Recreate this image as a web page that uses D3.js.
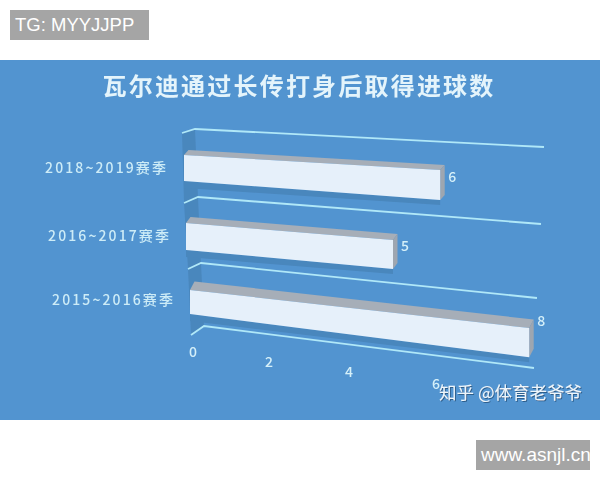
<!DOCTYPE html>
<html>
<head>
    <meta charset="utf-8">
    <script src="https://d3js.org/d3.v7.js"></script>
    <style>
        body { margin: 0; background: white; }
        svg { display: block; }
        text { font-family: "Noto Sans CJK SC", "Noto Sans", sans-serif; }
        .tag { font-family: "Liberation Sans", sans-serif; fill: white; }
        .cat { fill: #cdecf7; font-size: 14px; font-weight: 500; letter-spacing: 2.1px; }
        .num { fill: #d5f0f9; font-size: 14px; font-weight: 500; }
    </style>
</head>
<body>
    <script>
        const title = '瓦尔迪通过长传打身后取得进球数'
        const categories = ['2018~2019赛季', '2016~2017赛季', '2015~2016赛季']
        const goals = [6, 5, 8]
        const xTicks = [0, 2, 4, 6]
        const w = 600
        const h = 480

        const rows = d3.range(categories.length)

        // the picture is a tilted 3d chart, so every row has its own scale
        const left = d3.scaleOrdinal(rows, [184, 186, 190])
        const unit = d3.scaleOrdinal(rows, [42.7, 41.4, 42.4])
        const topY = d3.scaleOrdinal(rows, [155, 223, 290])
        const topSlope = d3.scaleOrdinal(rows, [2.5, 3.4, 4.75])
        const bottomY = d3.scaleOrdinal(rows, [181, 250, 314])
        const bottomSlope = d3.scaleOrdinal(rows, [3.17, 3.8, 5.4])
        const labelY = d3.scaleOrdinal(rows, [169, 237, 301])
        const labelRight = d3.scaleOrdinal(rows, [168, 171, 175])
        const valueShift = d3.scaleOrdinal(rows, [-7, -7, -20])

        // depth offset of the bars, the lower bars look thicker
        const depthX = 4.5
        const depthY = d3.scaleOrdinal(rows, [-5, -6, -8.5])

        const fx = (r, v) => left(r) + v * unit(r)
        const fTop = (r, v) => topY(r) + v * topSlope(r)
        const fBottom = (r, v) => bottomY(r) + v * bottomSlope(r)

        // grid lines sit on the row boundaries
        const gridStartX = d3.scaleLinear().domain([0, 1, 2, 3]).range([182, 184, 188, 191])
        const gridStartY = d3.scaleLinear().domain([0, 1, 2, 3]).range([133, 203, 269, 335])
        const gridBackX = d3.scaleLinear().domain([0, 1, 2, 3]).range([195, 198, 201, 204])
        const gridBackY = d3.scaleLinear().domain([0, 1, 2, 3]).range([129, 197, 263, 326])
        const gridEndX = d3.scaleLinear().domain([0, 1, 2, 3]).range([544, 541, 537, 534])
        const gridEndY = d3.scaleLinear().domain([0, 1, 2, 3]).range([147, 224, 298, 368])

        const tickX = d3.scaleLinear().domain(xTicks).range([193, 269, 349, 436])
        const tickY = d3.scaleLinear().domain(xTicks).range([353, 363, 373, 385])

        const svg = d3.select('body')
            .append('svg')
            .attr('width', w)
            .attr('height', h)

        const defs = svg.append('defs')
        defs.append('filter').attr('id', 'soft')
            .append('feGaussianBlur').attr('stdDeviation', 0.45)
        const shadow = defs.append('filter').attr('id', 'shadow')
        shadow.append('feDropShadow')
            .attr('dx', 1).attr('dy', 1).attr('stdDeviation', 0.6)
            .attr('flood-color', '#2f5f8c')

        svg.append('rect')
            .attr('y', 60)
            .attr('width', w)
            .attr('height', 360)
            .attr('fill', '#5294d0')

        const chart = svg.append('g').attr('filter', 'url(#soft)')

        // dark left wall
        const boundaries = d3.range(categories.length + 1)
        const wall = boundaries.map(i => [gridStartX(i), gridStartY(i)])
            .concat(boundaries.map(i => [gridBackX(i), gridBackY(i)]).reverse())
        chart.append('polygon')
            .attr('points', wall.join(' '))
            .attr('fill', '#4a87bd')

        chart.selectAll('.grid')
            .data(boundaries)
            .enter()
            .append('polyline')
            .attr('class', 'grid')
            .attr('points', i => [
                [gridStartX(i), gridStartY(i)],
                [gridBackX(i), gridBackY(i)],
                [gridEndX(i), gridEndY(i)]
            ].join(' '))
            .attr('fill', 'none')
            .attr('stroke', '#b0e8f8')
            .attr('stroke-width', 1.8)

        const bars = chart.selectAll('.bar')
            .data(goals)
            .enter()
            .append('g')
            .attr('class', 'bar')

        // shaded strip under each bar
        bars.append('polygon')
            .attr('points', (d, r) => [
                [fx(r, 0), fBottom(r, 0)],
                [fx(r, d), fBottom(r, d)],
                [fx(r, d), fBottom(r, d) + 5],
                [fx(r, 0), fBottom(r, 0) + 7]
            ].join(' '))
            .attr('fill', '#4a87bd')

        // top face
        bars.append('polygon')
            .attr('points', (d, r) => [
                [fx(r, 0), fTop(r, 0)],
                [fx(r, 0) + depthX, fTop(r, 0) + depthY(r)],
                [fx(r, d) + depthX, fTop(r, d) + depthY(r)],
                [fx(r, d), fTop(r, d)]
            ].join(' '))
            .attr('fill', '#a6aeb8')

        // end face
        bars.append('polygon')
            .attr('points', (d, r) => [
                [fx(r, d), fTop(r, d)],
                [fx(r, d) + depthX, fTop(r, d) + depthY(r)],
                [fx(r, d) + depthX, fBottom(r, d) + depthY(r)],
                [fx(r, d), fBottom(r, d)]
            ].join(' '))
            .attr('fill', '#9ea6b0')

        // front face
        bars.append('polygon')
            .attr('points', (d, r) => [
                [fx(r, 0), fTop(r, 0)],
                [fx(r, d), fTop(r, d)],
                [fx(r, d), fBottom(r, d)],
                [fx(r, 0), fBottom(r, 0)]
            ].join(' '))
            .attr('fill', '#e6f0fa')

        // value labels
        chart.selectAll('.value')
            .data(goals)
            .enter()
            .append('text')
            .attr('class', 'num value')
            .attr('x', (d, r) => fx(r, d) + 12)
            .attr('y', (d, r) => (fTop(r, d) + fBottom(r, d)) / 2 + valueShift(r))
            .attr('text-anchor', 'middle')
            .attr('dominant-baseline', 'middle')
            .text(d => d)

        chart.selectAll('.cat')
            .data(categories)
            .enter()
            .append('text')
            .attr('class', 'cat')
            .attr('x', (d, r) => labelRight(r))
            .attr('y', (d, r) => labelY(r))
            .attr('text-anchor', 'end')
            .attr('dominant-baseline', 'middle')
            .text(d => d)

        chart.selectAll('.tick')
            .data(xTicks)
            .enter()
            .append('text')
            .attr('class', 'num tick')
            .attr('x', d => tickX(d))
            .attr('y', d => tickY(d))
            .attr('text-anchor', 'middle')
            .attr('dominant-baseline', 'middle')
            .text(d => d)

        chart.append('text')
            .attr('x', 299)
            .attr('y', 88)
            .attr('text-anchor', 'middle')
            .attr('dominant-baseline', 'middle')
            .attr('fill', '#e4f4fb')
            .style('font-size', '24px')
            .style('font-weight', 700)
            .style('letter-spacing', '2.2px')
            .text(title)

        svg.append('text')
            .attr('x', 439)
            .attr('y', 394)
            .attr('dominant-baseline', 'middle')
            .attr('fill', '#eef6fb')
            .attr('filter', 'url(#shadow)')
            .style('font-size', '17.5px')
            .text('知乎 @体育老爷爷')

        // watermark tags
        svg.append('rect')
            .attr('x', 10).attr('y', 10)
            .attr('width', 139).attr('height', 30)
            .attr('fill', '#a5a5a5')
        svg.append('text')
            .attr('class', 'tag')
            .attr('x', 15).attr('y', 31)
            .style('font-size', '18.5px')
            .text('TG: MYYJJPP')

        svg.append('rect')
            .attr('x', 476).attr('y', 440)
            .attr('width', 114).attr('height', 30)
            .attr('fill', '#a5a5a5')
        svg.append('text')
            .attr('class', 'tag')
            .attr('x', 481).attr('y', 461)
            .style('font-size', '19px')
            .text('www.asnjl.cn')
    </script>
</body>
</html>
